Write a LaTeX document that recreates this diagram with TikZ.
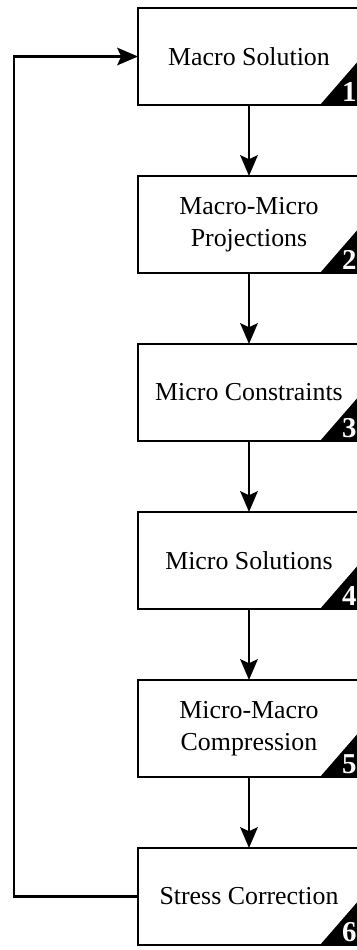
\documentclass[tikz,border=0pt]{standalone}
\usepackage{fontspec}
\setmainfont{Liberation Serif}
\usetikzlibrary{calc,positioning,arrows.meta}

\begin{document}
\begin{tikzpicture}[
    line width=1.6pt,
    box/.style={draw,outer sep=0pt,minimum width=5.55cm,minimum height=2.425cm,
      align=center,font=\fontsize{18.4}{22.7}\selectfont},
    flow/.style={-{Stealth[length=0.52cm,width=0.44cm,inset=0.1cm]}},
    num/.style={anchor=base east,inner sep=0pt,text=white,
      font=\fontsize{20.5}{24}\selectfont\bfseries},
  ]

  \useasboundingbox (0,0) rectangle (8.925,-23.75);

  % steps

  \foreach \n/\txt in {1/{Macro Solution},
                       2/{Macro-Micro\\Projections},
                       3/{Micro Constraints},
                       4/{Micro Solutions},
                       5/{Micro-Macro\\Compression},
                       6/{Stress Correction}}
    \node (b\n) at (6.225,{-1.4125-4.2*(\n-1)}) [box] {\txt};

  % corner marks

  \foreach \n in {1,...,6} {
    \fill (b\n.south east) -- ++(-1,0) -- ++(1,1.15) -- cycle;
    \node at ($(b\n.south east) + (-0.06,0.1)$) [num] {\n};
  }

  % arrows between steps

  \foreach \n [evaluate=\n as \m using int(\n+1)] in {1,...,5}
    \draw[flow] (b\n.south) -- (b\m.north);

  % loop back

  \coordinate (back) at ($(b6.west) + (-3.1,0)$);
  \draw[flow] (b6.west) -- (back) |- (b1.west);

\end{tikzpicture}
\end{document}
